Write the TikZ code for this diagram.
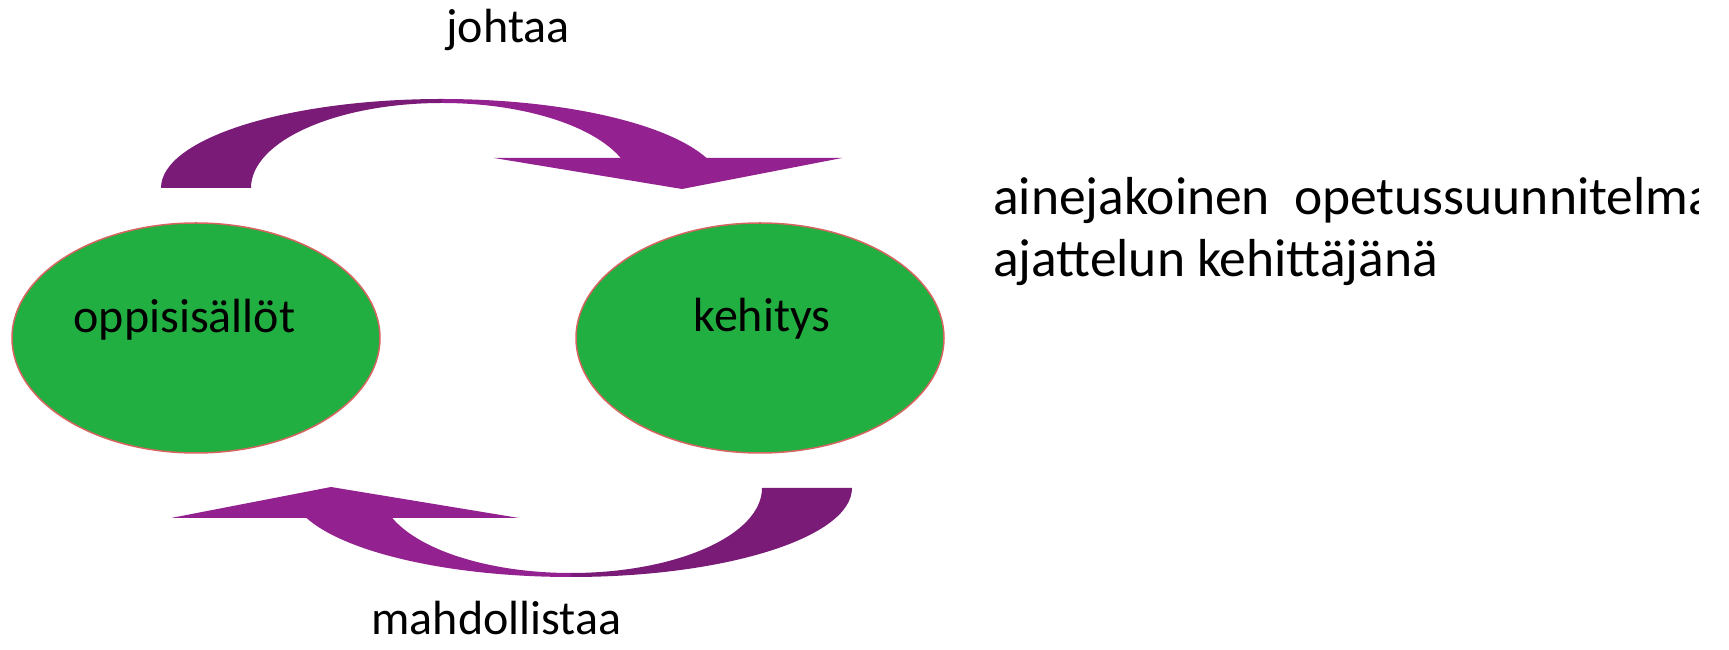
\documentclass[tikz,border=0pt]{standalone}
\usepackage{fontspec}
\setmainfont{Carlito}
\usetikzlibrary{shapes.geometric}
\definecolor{arrdark}{RGB}{122,27,120}
\definecolor{arrlight}{RGB}{147,33,143}
\definecolor{ovalgreen}{RGB}{34,175,65}
\definecolor{ovalline}{RGB}{214,100,96}
\tikzset{
  oval/.style={ellipse, draw=ovalline, line width=1.5pt, fill=ovalgreen,
    minimum width=368pt, minimum height=230pt, inner sep=0pt},
  lbl/.style={inner sep=0pt, anchor=base, font=\fontsize{48}{58}\selectfont},
  sidetext/.style={inner sep=0pt, anchor=base west, font=\fontsize{53.5}{62}\selectfont},
  curvarrow/.pic={
    \fill[arrdark] (-281,0) arc[start angle=180,end angle=90,x radius=281,y radius=89]
      -- (0,85) arc[start angle=90,end angle=180,x radius=191,y radius=85] -- cycle;
    \fill[arrlight] (0,89) arc[start angle=90,end angle=19.7,x radius=281,y radius=89]
      -- (178.7,30) arc[start angle=20.67,end angle=90,x radius=191,y radius=85] -- cycle;
    \fill[arrlight] (52,30) -- (400,30) -- (240,-1) -- cycle;
  }
}
\begin{document}
\begin{tikzpicture}[x=1pt,y=1pt]
\useasboundingbox (0,0) rectangle (1729,650);
\node[oval] (opp) at (196,312) {};
\node[oval] (keh) at (760,312) {};
\node[lbl] (oppt) at (184.5,317) {oppisisällöt};
\node[lbl] (keht) at (762,318) {kehitys};
\pic (arrtop) at (442,462) {curvarrow};
\pic[rotate=180] (arrbot) at (571,162) {curvarrow};
\node[lbl] (joh) at (508,607) {johtaa};
\node[lbl] (mah) at (496.5,15) {mahdollistaa};
\begin{scope}
\clip (0,0) rectangle (1698,650);
\node[sidetext] (t1) at (993,435) {ainejakoinen\ \ opetussuunnitelma};
\node[sidetext] (t2) at (993,373) {ajattelun kehittäjänä};
\end{scope}
\end{tikzpicture}
\end{document}
